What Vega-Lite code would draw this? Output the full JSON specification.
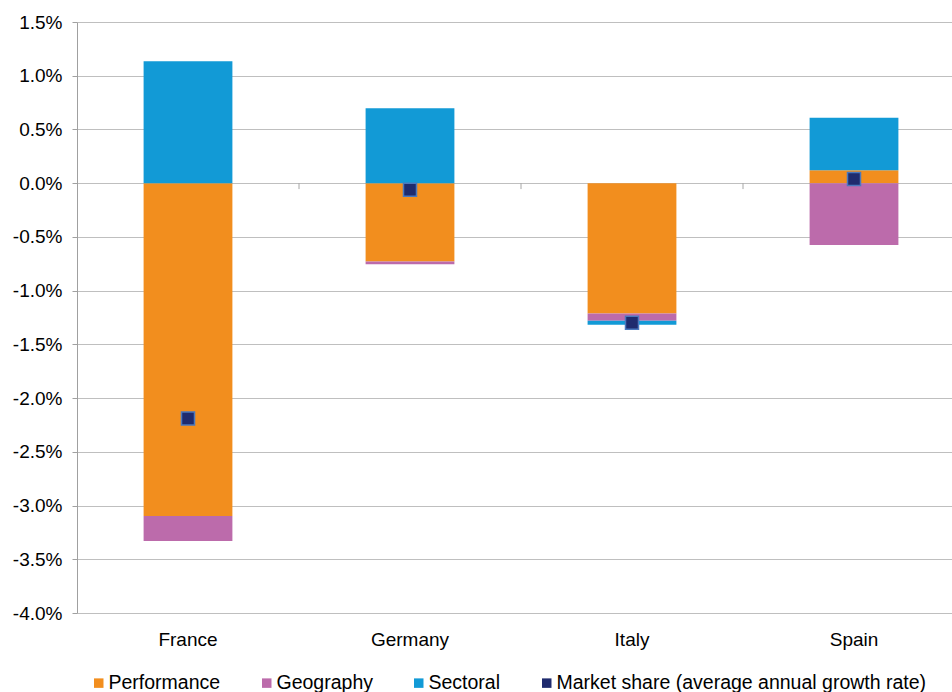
{
  "$schema": "https://vega.github.io/schema/vega-lite/v6.json",
  "width": 888,
  "height": 591,
  "autosize": {"type": "none"},
  "padding": {"left": 77, "top": 22, "right": -13, "bottom": 79},
  "background": "white",
  "config": {
    "font": "Liberation Sans",
    "view": {"stroke": null},
    "axis": {"labelColor": "#000000", "labelFont": "Liberation Sans", "title": null}
  },
  "datasets": {
    "components": [
      {"country": "France", "component": "Performance", "rank": 1, "value": -0.03098},
      {"country": "France", "component": "Geography", "rank": 2, "value": -0.00233},
      {"country": "France", "component": "Sectoral", "rank": 3, "value": 0.01135},
      {"country": "Germany", "component": "Performance", "rank": 1, "value": -0.0073},
      {"country": "Germany", "component": "Geography", "rank": 2, "value": -0.00025},
      {"country": "Germany", "component": "Sectoral", "rank": 3, "value": 0.00698},
      {"country": "Italy", "component": "Performance", "rank": 1, "value": -0.01212},
      {"country": "Italy", "component": "Geography", "rank": 2, "value": -0.00068},
      {"country": "Italy", "component": "Sectoral", "rank": 3, "value": -0.00037},
      {"country": "Spain", "component": "Performance", "rank": 1, "value": 0.0012},
      {"country": "Spain", "component": "Geography", "rank": 2, "value": -0.00575},
      {"country": "Spain", "component": "Sectoral", "rank": 3, "value": 0.0049}
    ],
    "share": [
      {"country": "France", "value": -0.0219},
      {"country": "Germany", "value": -0.0006},
      {"country": "Italy", "value": -0.013},
      {"country": "Spain", "value": 0.0004}
    ],
    "boundaries": [
      {"country": "Germany"},
      {"country": "Italy"},
      {"country": "Spain"}
    ]
  },
  "layer": [
    {
      "data": {"name": "components"},
      "mark": {"type": "bar", "width": {"band": 0.4}},
      "encoding": {
        "x": {
          "field": "country",
          "type": "nominal",
          "sort": null,
          "scale": {"domain": ["France", "Germany", "Italy", "Spain"], "paddingInner": 0, "paddingOuter": 0},
          "axis": {"domain": false, "ticks": false, "labelAngle": 0, "labelFontSize": 19, "labelPadding": 17, "grid": false}
        },
        "y": {
          "field": "value",
          "type": "quantitative",
          "stack": "zero",
          "scale": {"domain": [-0.04, 0.015], "nice": false, "zero": false},
          "axis": {
            "values": [-0.04, -0.035, -0.03, -0.025, -0.02, -0.015, -0.01, -0.005, 0, 0.005, 0.01, 0.015],
            "labelExpr": "replace(format(datum.value, '.1%'), '\u2212', '-')",
            "grid": true,
            "gridColor": "#BFBFBF",
            "domainColor": "#A0A0A0",
            "tickColor": "#A0A0A0",
            "tickSize": 5,
            "labelFontSize": 19,
            "labelPadding": 10
          }
        },
        "color": {
          "field": "component",
          "type": "nominal",
          "scale": {
            "domain": ["Performance", "Geography", "Sectoral", "Market share (average annual growth rate)"],
            "range": ["#F28E1E", "#BC6BAB", "#129AD6", "#1F2B6E"]
          },
          "legend": {
            "title": null,
            "orient": "none",
            "direction": "horizontal",
            "legendX": 12,
            "legendY": 651,
            "padding": 0,
            "symbolType": "square",
            "symbolSize": 90,
            "symbolStrokeWidth": 0,
            "labelFontSize": 19.5,
            "labelColor": "#000000",
            "labelOffset": 0,
            "labelLimit": 600,
            "columnPadding": 36
          }
        },
        "order": {"field": "rank", "type": "quantitative"}
      }
    },
    {
      "data": {"name": "boundaries"},
      "mark": {"type": "rule", "color": "#A6A6A6", "strokeWidth": 1},
      "encoding": {
        "x": {"field": "country", "type": "nominal", "bandPosition": 0, "sort": null},
        "y": {"datum": 0},
        "y2": {"datum": -0.00055}
      }
    },
    {
      "data": {"name": "share"},
      "mark": {"type": "point", "shape": "square", "filled": true, "opacity": 1, "size": 169, "stroke": "#4A78BE", "strokeWidth": 1.5},
      "encoding": {
        "x": {"field": "country", "type": "nominal", "sort": null},
        "y": {"field": "value", "type": "quantitative"},
        "color": {"datum": "Market share (average annual growth rate)"}
      }
    }
  ]
}
